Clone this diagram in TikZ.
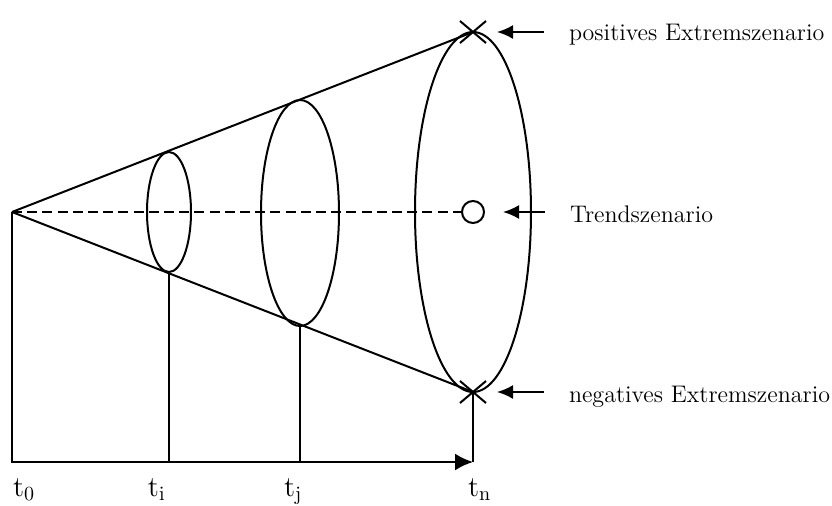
\documentclass[tikz,border=0pt]{standalone}
\usetikzlibrary{arrows.meta, shapes.geometric, shapes.misc}

\begin{document}
\begin{tikzpicture}[x=0.5pt, y=-0.5pt, line width=1pt,
    font=\fontsize{12}{14}\selectfont,
    slice/.style={draw, ellipse, inner sep=0pt},
    extreme/.style={draw, cross out, minimum width=13pt, minimum height=11pt, inner sep=0pt, outer sep=0pt},
    lbl/.style={anchor=west, inner sep=0pt},
    tick/.style={anchor=base west, inner sep=0pt, font=\fontsize{14.5}{16}\selectfont},
    lblarrow/.style={-{Latex[length=8pt,width=7pt]}}]
  \useasboundingbox (0,0) rectangle (832,505);
  \coordinate (O) at (12,212);
  \coordinate (A0) at (12,462);
  \coordinate (An) at (473,462);
  % slices
  \node[slice, minimum width=22pt, minimum height=60pt] (si) at (169,212) {};
  \node[slice, minimum width=39pt, minimum height=113pt] (sj) at (300,213) {};
  \node[slice, minimum width=58pt, minimum height=180pt] (sn) at (473,212) {};
  \node[extreme] (P) at (473,32) {};
  \node[extreme] (N) at (473,392) {};
  \node[draw, circle, minimum size=11pt, inner sep=0pt] (trend) at (473,212) {};
  \draw (O) -- (P.center);
  \draw (O) -- (N.center);
  \draw[dash pattern=on 5pt off 2.6pt] (O) -- (trend.west);
  % time axis
  \draw[-{Latex[length=9pt,width=8.5pt]}] (O) -- (A0) -- (An);
  \draw (si.south) -- (si.south |- A0);
  \draw (sj.south) -- (sj.south |- A0);
  \draw (N.center) -- (An);
  \node[tick] (t0) at (12,496) {t$_{\mathrm{0}}$};
  \node[tick] (ti) at (147,496) {t$_{\mathrm{i}}$};
  \node[tick] (tj) at (283,496) {t$_{\mathrm{j}}$};
  \node[tick] (tn) at (467,496) {t$_{\mathrm{n}}$};
  % scenarios
  \node[lbl] (poslbl) at (568,35) {positives Extremszenario};
  \node[lbl] (trendlbl) at (569,214) {Trendszenario};
  \node[lbl] (neglbl) at (568,397) {negatives Extremszenario};
  \draw[lblarrow, shorten <=12pt, shorten >=5.5pt] (poslbl.west |- P) -- (P.east);
  \draw[lblarrow, shorten <=12pt, shorten >=9pt] (trendlbl.west |- trend) -- (trend.east);
  \draw[lblarrow, shorten <=12pt, shorten >=5.5pt] (neglbl.west |- N) -- (N.east);
\end{tikzpicture}
\end{document}
